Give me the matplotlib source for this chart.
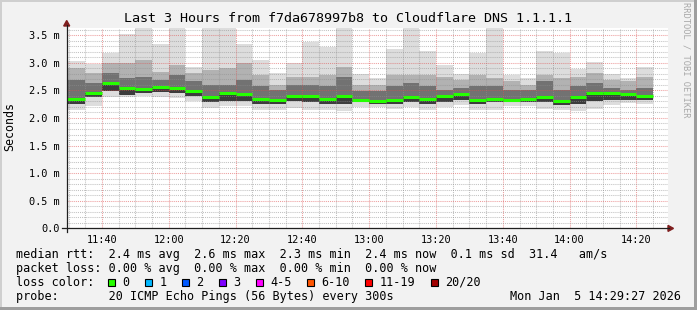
import numpy as np
import pandas as pd
import matplotlib
matplotlib.use("Agg")
import matplotlib.pyplot as plt
import matplotlib.dates as mdates
from matplotlib.patches import Rectangle, Polygon
from matplotlib.lines import Line2D
from matplotlib.ticker import MultipleLocator, FuncFormatter


# 5 minute samples (end of each interval), round trip times in ms
t_end = pd.date_range("2026-01-05 11:35", periods=35, freq="5min")
t_start = pd.Timestamp("2026-01-05 11:29:27")
t_now = pd.Timestamp("2026-01-05 14:29:27")

rtt_max = [3.03, 2.97, 3.18, 3.52, 3.63, 3.34, 3.63, 2.92, 3.63, 3.63,
           3.33, 3.04, 2.81, 2.99, 3.38, 3.29, 3.63, 2.80, 2.73, 3.25,
           3.63, 3.21, 2.96, 2.79, 3.18, 3.63, 2.77, 2.73, 3.21, 3.18,
           2.88, 3.02, 2.79, 2.73, 2.93]
rtt_band_hi = [2.90, 2.81, 2.99, 2.99, 3.05, 2.84, 2.95, 2.81, 2.87, 2.90,
               3.00, 2.78, 2.60, 2.75, 2.75, 2.78, 2.93, 2.60, 2.60, 2.77,
               2.78, 2.78, 2.75, 2.69, 2.78, 2.72, 2.66, 2.60, 2.78, 2.72,
               2.75, 2.81, 2.69, 2.66, 2.75]
rtt_core_hi = [2.69, 2.63, 2.81, 2.72, 2.75, 2.69, 2.78, 2.66, 2.60, 2.60,
               2.69, 2.58, 2.51, 2.60, 2.60, 2.58, 2.75, 2.49, 2.49, 2.58,
               2.63, 2.58, 2.51, 2.55, 2.58, 2.58, 2.51, 2.51, 2.66, 2.51,
               2.58, 2.63, 2.55, 2.51, 2.55]
rtt_median = [2.35, 2.46, 2.63, 2.54, 2.52, 2.56, 2.54, 2.49, 2.38, 2.45,
              2.43, 2.35, 2.33, 2.40, 2.40, 2.34, 2.39, 2.33, 2.30, 2.33,
              2.38, 2.35, 2.40, 2.44, 2.33, 2.34, 2.32, 2.34, 2.37, 2.31,
              2.38, 2.46, 2.46, 2.43, 2.40]
rtt_core_lo = [2.25, 2.37, 2.49, 2.42, 2.46, 2.47, 2.46, 2.40, 2.28, 2.31,
               2.31, 2.25, 2.25, 2.30, 2.28, 2.25, 2.25, 2.28, 2.25, 2.25,
               2.28, 2.25, 2.28, 2.33, 2.25, 2.28, 2.28, 2.28, 2.28, 2.24,
               2.25, 2.31, 2.33, 2.33, 2.33]
rtt_min = [2.14, 2.22, 2.37, 2.37, 2.40, 2.38, 2.36, 2.30, 2.18, 2.21,
           2.21, 2.15, 2.14, 2.18, 2.15, 2.14, 2.12, 2.20, 2.19, 2.17,
           2.19, 2.15, 2.19, 2.24, 2.14, 2.15, 2.22, 2.22, 2.17, 2.14,
           2.13, 2.17, 2.24, 2.27, 2.26]

# legend numbers
median_stats = [2.4, 2.6, 2.3, 2.4, 0.1]
am_per_s = 31.4
loss_stats = [0.00, 0.00, 0.00, 0.00]
loss_labels = ["0", "1", "2", "3", "4-5", "6-10", "11-19", "20/20"]
loss_colors = ["#26ff00", "#00b8ff", "#0059ff", "#7e00ff",
               "#ff00ff", "#ff5500", "#ff0000", "#a10000"]

title = "Last 3 Hours from f7da678997b8 to Cloudflare DNS 1.1.1.1"
mono = "DejaVu Sans Mono"

W, H = 697, 310
def fx(x): return x / W
def fy(y): return 1 - y / H

fig = plt.figure(figsize=(W / 100, H / 100), dpi=100, facecolor="#f2f2f2")
x0, x1, y0, y1 = 66.7, 668.0, 228.4, 27.9
ax = fig.add_axes([fx(x0), fy(y0), fx(x1) - fx(x0), fy(y1) - fy(y0)])
ax.set_facecolor("white")

edges = mdates.date2num(list(t_end - pd.Timedelta("5min")) + [t_end[-1]])
edges[0] = mdates.date2num(t_start)

# the smoke, light outside to dark around the median
ax.stairs(rtt_max, edges, baseline=rtt_min, fill=True, color="#dddddd", lw=0, zorder=1)
ax.stairs(rtt_band_hi, edges, baseline=rtt_core_lo, fill=True, color="#b2b2b2", lw=0, zorder=1.1)
ax.stairs(rtt_core_hi, edges, baseline=rtt_core_lo, fill=True, color="#727272", lw=0, zorder=1.2)
ax.stairs(rtt_median, edges, baseline=rtt_core_lo, fill=True, color="#3c3c3c", lw=0, zorder=1.3)
ax.hlines(rtt_median, edges[:-1], edges[1:], color=loss_colors[0], lw=2.2, zorder=4)

ax.set_xlim(mdates.date2num(t_start), mdates.date2num(t_now))
ax.set_ylim(0, 3.63)

ax.xaxis.set_major_locator(mdates.MinuteLocator(byminute=[0, 20, 40]))
ax.xaxis.set_minor_locator(mdates.MinuteLocator(byminute=range(0, 60, 5)))
ax.xaxis.set_major_formatter(mdates.DateFormatter("%H:%M"))
ax.yaxis.set_major_locator(MultipleLocator(0.5))
ax.yaxis.set_minor_locator(MultipleLocator(0.1))
ax.yaxis.set_major_formatter(FuncFormatter(lambda v, p: "0.0" if v == 0 else f"{v:.1f} m"))

ax.set_axisbelow(False)
ax.grid(which="minor", color="#8f8f8f", alpha=0.55, lw=0.75, linestyle=(0, (1, 1)))
ax.grid(which="major", color="#de4f4f", alpha=0.55, lw=0.75, linestyle=(0, (1, 1)))

ax.tick_params(which="both", length=0)
ax.tick_params(axis="x", pad=4.5, labelsize=7.4)
ax.tick_params(axis="y", pad=4.8, labelsize=7.4)
for lab in ax.get_xticklabels() + ax.get_yticklabels():
    lab.set_family(mono)
for s in ax.spines.values():
    s.set_visible(False)

# axis lines with arrows
fig.add_artist(Line2D([fx(62), fx(669)], [fy(y0), fy(y0)], color="#1f1f1f", lw=0.9))
fig.add_artist(Line2D([fx(x0), fx(x0)], [fy(y0 + 4), fy(25)], color="#1f1f1f", lw=0.9))
fig.add_artist(Polygon([[fx(668), fy(y0 - 3)], [fx(673.5), fy(y0)], [fx(668), fy(y0 + 3)]],
                       closed=True, color="#801f1f"))
fig.add_artist(Polygon([[fx(x0 - 3), fy(26)], [fx(x0), fy(20.5)], [fx(x0 + 3), fy(26)]],
                       closed=True, color="#801f1f"))

# frame shading
fig.add_artist(Rectangle((0, fy(2)), 1, fy(0) - fy(2), color="#cfcfcf", lw=0))
fig.add_artist(Rectangle((0, 0), fx(2), 1, color="#cfcfcf", lw=0))
fig.add_artist(Rectangle((0, 0), 1, fy(H - 3) - fy(H), color="#9e9e9e", lw=0))
fig.add_artist(Rectangle((fx(W - 3), 0), fx(3), 1, color="#9e9e9e", lw=0))

# texts
fig.text(fx(348.5), fy(19), title, family=mono, size=9.6, ha="center", va="center")
fig.text(fx(10), fy(126.5), "Seconds", family=mono, size=8.4, rotation=90,
         ha="center", va="center")
fig.text(fx(686), fy(60), "RRDTOOL / TOBI OETIKER", family=mono, size=6.3,
         rotation=270, ha="center", va="center", color="#a8a8a8")

cw = 7.1
lx = 16
m = median_stats
line1 = (f"median rtt:  {m[0]:.1f} ms avg  {m[1]:.1f} ms max  {m[2]:.1f} ms min  "
         f"{m[3]:.1f} ms now  {m[4]:.1f} ms sd  {am_per_s:.1f}   am/s")
l = loss_stats
line2 = (f"packet loss: {l[0]:.2f} % avg  {l[1]:.2f} % max  {l[2]:.2f} % min  "
         f"{l[3]:.2f} % now")
fig.text(fx(lx), fy(254.7), line1, family=mono, size=8.5, va="center")
fig.text(fx(lx), fy(268.3), line2, family=mono, size=8.5, va="center")
fig.text(fx(lx), fy(282.3), "loss color:", family=mono, size=8.5, va="center")
bx = lx + 13 * cw
for lab, col in zip(loss_labels, loss_colors):
    fig.add_artist(Rectangle((fx(bx), fy(286)), fx(7), fy(279) - fy(286),
                             facecolor=col, edgecolor="black", lw=0.8))
    fig.text(fx(bx + 2 * cw), fy(282.3), lab, family=mono, size=8.5, va="center")
    bx += (len(lab) + 4.2) * cw
fig.text(fx(lx), fy(296.7), "probe:       20 ICMP Echo Pings (56 Bytes) every 300s",
         family=mono, size=8.5, va="center")
fig.text(fx(681), fy(296.7), t_now.strftime("%a %b ") + f"{t_now.day:2d}" + t_now.strftime(" %H:%M:%S %Y"),
         family=mono, size=8.5, va="center", ha="right")

plt.savefig("out.png", dpi=100, facecolor=fig.get_facecolor())
